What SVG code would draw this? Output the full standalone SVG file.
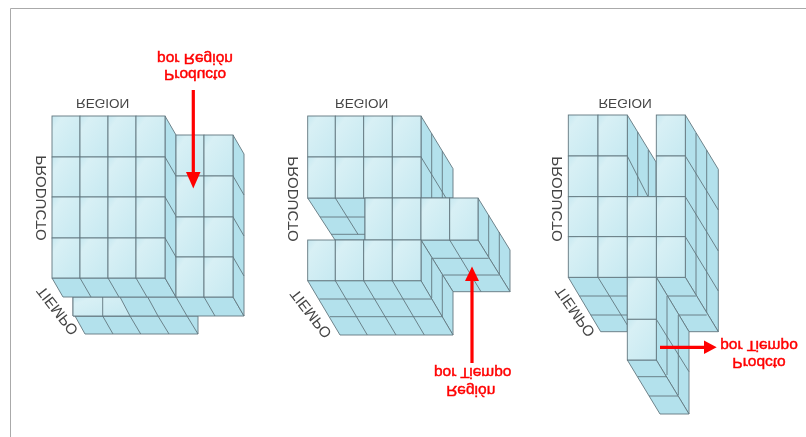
<svg xmlns="http://www.w3.org/2000/svg" width="806" height="437" viewBox="0 0 806 437">
<defs>
<linearGradient id="g" x1="0" y1="0" x2="1" y2="1"><stop offset="0" stop-color="#c6e8f0"/><stop offset="0.2" stop-color="#d8f0f5"/><stop offset="1" stop-color="#c6e9f1"/></linearGradient>
<filter id="soft" x="-5%" y="-5%" width="110%" height="110%"><feGaussianBlur stdDeviation="0.6"/></filter>
</defs>
<style>
rect,.c{fill:url(#g);stroke:#62777f;stroke-width:.9}
.s{fill:#b3e1ec;stroke:#62777f;stroke-width:.9;stroke-linejoin:round}
.l{fill:none;stroke:#62777f;stroke-width:.9}
.a{fill:none;stroke:#f00;stroke-width:3.2}
.h{fill:#f00}
text{font-family:"Liberation Sans",Arial,sans-serif;text-anchor:middle}
.ax{font-size:13.5px;fill:#444}
.ay{font-size:15px;fill:#444}
.r{font-size:15.5px;fill:#f00;stroke:#f00;stroke-width:.45}
</style>
<path d="M10.5 437V8.5H806" fill="none" stroke="#aaa" stroke-width="1"/>
<g filter="url(#soft)">
<g id="cubo-producto-region">
<polygon class="s" points="75,316 198,316 198,334 85,334"/>
<path class="l" d="M102.7 316L113 334M130 316L140.7 334M158 316L169 334M187 316L198 334"/>
<polygon class="s" points="73,297 233,297 244,316 73,316"/>
<polygon class="c" points="73,297 120,297 130,316 73,316"/>
<path class="l" d="M102.7 297V316M147.7 297L158 316M176 297L187 316M204 297L215 316"/>
<polygon class="s" points="52,278 165,278 176,297 63,297"/>
<path class="l" d="M80 278L91 297M108 278L119 297M136 278L147 297"/>
<polygon class="s" points="165,116 176,135 176,297 165,278"/>
<path class="l" d="M165 157L176 176M165 197L176 216M165 238L176 257"/>
<polygon class="s" points="233,135 244,154 244,316 233,297"/>
<path class="l" d="M233 176L244 195M233 217L244 236M233 257L244 276"/>
<rect x="52" y="116" width="28" height="41"/><rect x="80" y="116" width="28" height="41"/><rect x="108" y="116" width="28" height="41"/><rect x="136" y="116" width="29" height="41"/>
<rect x="52" y="157" width="28" height="40"/><rect x="80" y="157" width="28" height="40"/><rect x="108" y="157" width="28" height="40"/><rect x="136" y="157" width="29" height="40"/>
<rect x="52" y="197" width="28" height="41"/><rect x="80" y="197" width="28" height="41"/><rect x="108" y="197" width="28" height="41"/><rect x="136" y="197" width="29" height="41"/>
<rect x="52" y="238" width="28" height="40"/><rect x="80" y="238" width="28" height="40"/><rect x="108" y="238" width="28" height="40"/><rect x="136" y="238" width="29" height="40"/>
<rect x="176" y="135" width="28" height="41"/><rect x="204" y="135" width="29" height="41"/>
<rect x="176" y="176" width="28" height="41"/><rect x="204" y="176" width="29" height="41"/>
<rect x="176" y="217" width="28" height="40"/><rect x="204" y="217" width="29" height="40"/>
<rect x="176" y="257" width="28" height="40"/><rect x="204" y="257" width="29" height="40"/>
<text class="ax" transform="translate(102.7 103.5) scale(1 -1)" y="5">REGION</text>
<text class="ay" transform="translate(40 198) scale(1 -1) rotate(-90)" y="5.5">PRODUCTO</text>
<text class="ay" transform="translate(57 311) scale(1 -1) rotate(-52)" y="5.5">TIEMPO</text>
<path class="a" d="M193.3 90V175"/><polygon class="h" points="186,172 200.5,172 193.3,188.5"/>
<text class="r" transform="translate(195 59) scale(1 -1)" y="5.5">por Región</text>
<text class="r" transform="translate(195 75) scale(1 -1)" y="5.5">Producto</text>
</g>
<g id="cubo-region-tiempo">
<polygon class="s" points="421,116 453,168.7 453,198 421,198"/>
<path class="l" d="M431.7 133.5V198M442.3 151V198M421 157L446 198"/>
<polygon class="s" points="307.7,198 365,198 365,240 335,240"/>
<path class="l" d="M320 217H365M331 234.3H365M335.3 198L358 234.3"/>
<polygon class="s" points="478,198 510,250 510,291.7 478,240"/>
<path class="l" d="M488.7 215V257M499.3 232V274.7"/>
<polygon class="s" points="421,240 478,240 510,291.7 453,291.7"/>
<path class="l" d="M432.3 258.3H488.7M443.3 275H499.3M449.7 240L481 291.7"/>
<polygon class="s" points="421,240 453,291.7 453,335 421,281"/>
<path class="l" d="M431.7 258V298M442.3 275V316.7"/>
<polygon class="s" points="307.7,280.7 421,280.7 453,335 340,335"/>
<path class="l" d="M319.3 299H431.7M330 316.7H442.3M335.3 280.7L367.3 335M363.7 280.7L396 335M392.3 280.7L424.3 335"/>
<rect x="307.7" y="116" width="27.6" height="41"/><rect x="335.3" y="116" width="28.4" height="41"/><rect x="363.7" y="116" width="28.6" height="41"/><rect x="392.3" y="116" width="28.7" height="41"/>
<rect x="307.7" y="157" width="27.6" height="41"/><rect x="335.3" y="157" width="28.4" height="41"/><rect x="363.7" y="157" width="28.6" height="41"/><rect x="392.3" y="157" width="28.7" height="41"/>
<rect x="365" y="198" width="27.3" height="42"/><rect x="392.3" y="198" width="28.7" height="42"/><rect x="421" y="198" width="28.7" height="42"/><rect x="449.7" y="198" width="28.3" height="42"/>
<rect x="307.7" y="240" width="27.6" height="40.7"/><rect x="335.3" y="240" width="28.4" height="40.7"/><rect x="363.7" y="240" width="28.6" height="40.7"/><rect x="392.3" y="240" width="28.7" height="40.7"/>
<text class="ax" transform="translate(361.7 103.5) scale(1 -1)" y="5">REGION</text>
<text class="ay" transform="translate(292.7 199) scale(1 -1) rotate(-90)" y="5.5">PRODUCTO</text>
<text class="ay" transform="translate(310.5 314) scale(1 -1) rotate(-52)" y="5.5">TIEMPO</text>
<path class="a" d="M472 363V278"/><polygon class="h" points="465,281 479,281 472,266.5"/>
<text class="r" transform="translate(472.7 373) scale(1 -1)" y="5.5">por Tiempo</text>
<text class="r" transform="translate(470.7 391.5) scale(1 -1)" y="5.5">Región</text>
</g>
<g id="cubo-producto-tiempo">
<polygon class="s" points="627.3,115 656,162 656,196.7 627.3,196.7"/>
<path class="l" d="M637.7 132V196.7M648.3 150V196.7M627.3 156L648 196.7"/>
<polygon class="s" points="685.3,115 718.3,169.3 718.3,331.7 685.3,277.3"/>
<path class="l" d="M696 133V296M706.7 150V315M685.3 156L718.3 210M685.3 196.7L718.3 251M685.3 236.7L718.3 291"/>
<polygon class="s" points="568.3,277.3 627.3,277.3 627.3,331.7 600.7,331.7"/>
<path class="l" d="M579.3 296H627.3M590.7 315H627.3M598 277.3L627.3 325"/>
<polygon class="s" points="656.3,277.3 685.3,277.3 718.3,331.7 689,331.7"/>
<path class="l" d="M667 296H696M678 315H706.7"/>
<polygon class="s" points="656.3,277.3 689,331.7 689,414 656.3,360"/>
<path class="l" d="M667 296V375M678.3 315V395M656.3 319.3L689 371.7"/>
<polygon class="s" points="627.3,360 656.3,360 689,414 660,414"/>
<path class="l" d="M637.7 376.7H667M649 396H678"/>
<rect x="568.3" y="115" width="29.7" height="41"/><rect x="598" y="115" width="29.3" height="41"/>
<rect x="568.3" y="156" width="29.7" height="40.7"/><rect x="598" y="156" width="29.3" height="40.7"/>
<rect x="568.3" y="196.7" width="29.7" height="40"/><rect x="598" y="196.7" width="29.3" height="40"/>
<rect x="568.3" y="236.7" width="29.7" height="40.6"/><rect x="598" y="236.7" width="29.3" height="40.6"/>
<rect x="656.3" y="115" width="29" height="41"/><rect x="656.3" y="156" width="29" height="40.7"/><rect x="656.3" y="196.7" width="29" height="40"/><rect x="656.3" y="236.7" width="29" height="40.6"/>
<rect x="627.3" y="196.7" width="29" height="40"/><rect x="627.3" y="236.7" width="29" height="40.6"/><rect x="627.3" y="277.3" width="29" height="42"/><rect x="627.3" y="319.3" width="29" height="40.7"/>
<text class="ax" transform="translate(625 103.5) scale(1 -1)" y="5">REGION</text>
<text class="ay" transform="translate(556.7 199) scale(1 -1) rotate(-90)" y="5.5">PRODUCTO</text>
<text class="ay" transform="translate(574.7 312) scale(1 -1) rotate(-55)" y="5.5">TIEMPO</text>
<path class="a" d="M660 347.3H706"/><polygon class="h" points="704,340.5 704,354 716.7,347.3"/>
<text class="r" transform="translate(759 346) scale(1 -1)" y="5.5">por Tiempo</text>
<text class="r" transform="translate(759 363) scale(1 -1)" y="5.5">Prodcto</text>
</g>
</g>
</svg>
